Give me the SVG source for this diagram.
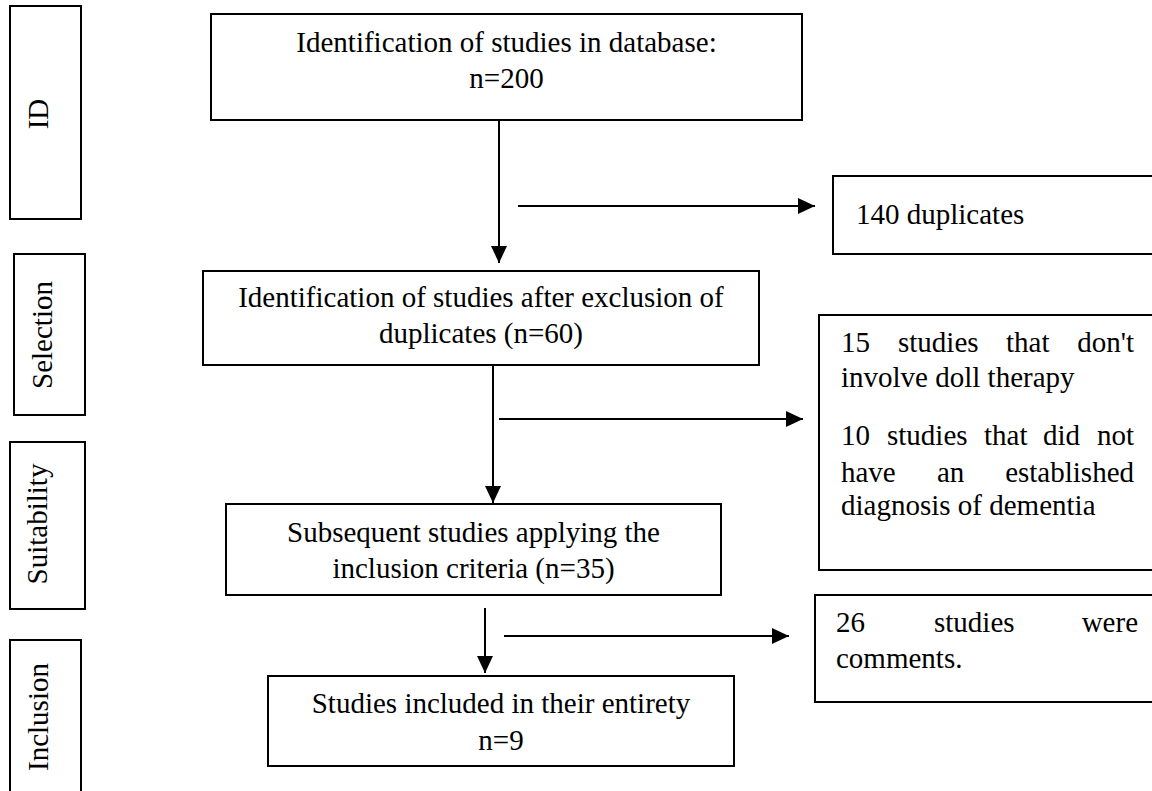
<svg xmlns="http://www.w3.org/2000/svg" width="1152" height="791" viewBox="0 0 1152 791">
<style>
  .box { fill: #ffffff; stroke: #000000; stroke-width: 2; }
  text { font-family: 'Liberation Serif', 'Times New Roman', Times, 'DejaVu Serif', serif; font-size: 29px; fill: #000000; }
  .c { text-anchor: middle; }
  .e { text-anchor: end; }
  .ln { stroke: #000000; stroke-width: 2; fill: none; marker-end: url(#ah); }
</style>
<defs>
  <marker id="ah" markerUnits="userSpaceOnUse" markerWidth="18" markerHeight="16" refX="17" refY="8" orient="auto">
    <path d="M0,0 L17,8 L0,16 z" fill="#000000"/>
  </marker>
</defs>
<rect x="0" y="0" width="1152" height="791" fill="#ffffff"/>
<g font-family="Liberation Serif, Times New Roman, serif" font-size="29">
<g id="stage-id">
  <rect class="box" x="10" y="6" width="71" height="213"/>
  <text class="c" transform="translate(48,114) rotate(-90)">ID</text>
</g>
<g id="stage-selection">
  <rect class="box" x="14" y="254" width="71" height="161"/>
  <text class="c" transform="translate(52,335) rotate(-90)">Selection</text>
</g>
<g id="stage-suitability">
  <rect class="box" x="10" y="442" width="75" height="167"/>
  <text class="c" transform="translate(47,524) rotate(-90)">Suitability</text>
</g>
<g id="stage-inclusion">
  <rect class="box" x="10" y="640" width="71" height="170"/>
  <text class="c" transform="translate(48,717) rotate(-90)">Inclusion</text>
</g>

<g id="node-database">
  <rect class="box" x="211" y="14" width="591" height="106"/>
  <text class="c" x="506.5" y="52">Identification of studies in database:</text>
  <text class="c" x="506.5" y="88">n=200</text>
</g>
<g id="node-after-duplicates">
  <rect class="box" x="203" y="271" width="556" height="94"/>
  <text class="c" x="481" y="307">Identification of studies after exclusion of</text>
  <text class="c" x="481" y="343">duplicates (n=60)</text>
</g>
<g id="node-inclusion-criteria">
  <rect class="box" x="226" y="504" width="495" height="91"/>
  <text class="c" x="473.5" y="542">Subsequent studies applying the</text>
  <text class="c" x="473.5" y="578">inclusion criteria (n=35)</text>
</g>
<g id="node-included">
  <rect class="box" x="268" y="676" width="466" height="90"/>
  <text class="c" x="501" y="713">Studies included in their entirety</text>
  <text class="c" x="501" y="750">n=9</text>
</g>

<g id="excl-duplicates">
  <rect class="box" x="833" y="176" width="330" height="78"/>
  <text x="856" y="224">140 duplicates</text>
</g>
<g id="excl-criteria">
  <rect class="box" x="819" y="315" width="344" height="255"/>
  <text y="352"><tspan x="841">15</tspan><tspan x="898">studies</tspan><tspan x="1006">that</tspan></text>
  <text class="e" x="1134" y="352">don't</text>
  <text x="841" y="387">involve doll therapy</text>
  <text y="445"><tspan x="841">10</tspan><tspan x="887">studies</tspan><tspan x="984">that</tspan><tspan x="1043">did</tspan></text>
  <text class="e" x="1134" y="445">not</text>
  <text y="482"><tspan x="841">have</tspan><tspan x="937">an</tspan></text>
  <text class="e" x="1134" y="482">established</text>
  <text x="841" y="515">diagnosis of dementia</text>
</g>
<g id="excl-comments">
  <rect class="box" x="815" y="595" width="348" height="107"/>
  <text y="632"><tspan x="836">26</tspan><tspan x="934">studies</tspan></text>
  <text class="e" x="1138" y="632">were</text>
  <text x="836" y="668">comments.</text>
</g>
</g>
<g id="connectors">
  <line class="ln" x1="499" y1="120" x2="499" y2="263"/>
  <line class="ln" x1="493" y1="365" x2="493" y2="503"/>
  <line class="ln" x1="485" y1="608" x2="485" y2="673"/>
  <line class="ln" x1="518" y1="206" x2="815" y2="206"/>
  <line class="ln" x1="499" y1="419" x2="803" y2="419"/>
  <line class="ln" x1="504" y1="636" x2="789" y2="636"/>
</g>
</svg>
